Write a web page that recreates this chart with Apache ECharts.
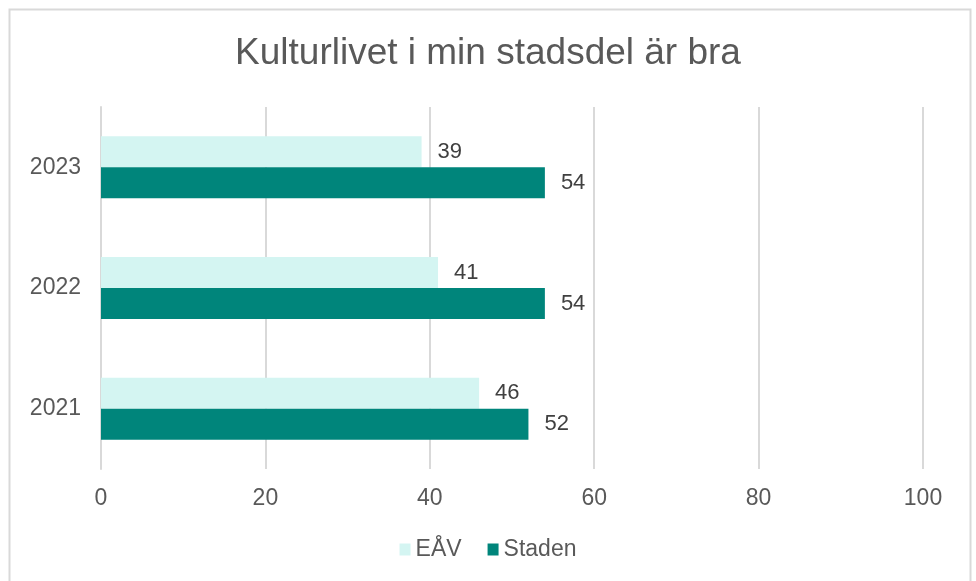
<!DOCTYPE html>
<html>
<head>
<meta charset="utf-8">
<script src="https://cdn.jsdelivr.net/npm/echarts@6/dist/echarts.min.js"></script>
<style>
  html, body { margin: 0; padding: 0; background: #fff; }
  #chart { width: 976px; height: 581px; }
</style>
</head>
<body>
<div id="chart"></div>
<script>
// data
const years = ['2023', '2022', '2021']
const eavValues = [39, 41, 46]
const stadenValues = [54, 54, 52]
const xTicks = [0, 20, 40, 60, 80, 100]

const chart = echarts.init(document.getElementById('chart'))
const font = '"Liberation Sans", Arial, sans-serif'

const barLabel = {
  show: true,
  position: 'right',
  distance: 16,
  color: '#404040',
  fontSize: 22,
  fontFamily: font
}

chart.setOption({
  animation: false,
  backgroundColor: '#fff',
  title: {
    text: 'Kulturlivet i min stadsdel är bra',
    left: 'center',
    top: 30,
    textStyle: { color: '#595959', fontSize: 37, fontWeight: 'normal', fontFamily: font }
  },
  // ram runt diagrammet
  graphic: [{
    type: 'rect',
    shape: { x: 9.5, y: 9.5, width: 961, height: 620 },
    style: { fill: 'none', stroke: '#d9d9d9', lineWidth: 2 },
    silent: true
  }],
  legend: {
    bottom: 15,
    left: 'center',
    itemWidth: 11,
    itemHeight: 12,
    itemGap: 26,
    icon: 'rect',
    textStyle: { color: '#595959', fontSize: 23, fontFamily: font },
    data: ['EÅV', 'Staden']
  },
  grid: {
    left: 101,
    right: 53,
    top: 107,
    bottom: 112
  },
  xAxis: {
    type: 'value',
    min: xTicks[0],
    max: xTicks[xTicks.length - 1],
    interval: 20,
    axisLine: { show: false },
    axisTick: { show: false },
    axisLabel: { color: '#595959', fontSize: 23, fontFamily: font, margin: 18 },
    splitLine: { lineStyle: { color: '#d9d9d9', width: 2 } }
  },
  yAxis: {
    type: 'category',
    inverse: true,
    data: years,
    axisLine: { show: true, lineStyle: { color: '#d9d9d9', width: 2 } },
    axisTick: { show: false },
    axisLabel: { color: '#595959', fontSize: 23, fontFamily: font, margin: 20 }
  },
  series: [
    {
      name: 'EÅV',
      type: 'bar',
      data: eavValues,
      barWidth: 31,
      barGap: '0%',
      itemStyle: { color: '#d4f5f2' },
      label: barLabel
    },
    {
      name: 'Staden',
      type: 'bar',
      data: stadenValues,
      barWidth: 31,
      barGap: '0%',
      itemStyle: { color: '#00857b' },
      label: barLabel
    }
  ]
})
</script>
</body>
</html>
